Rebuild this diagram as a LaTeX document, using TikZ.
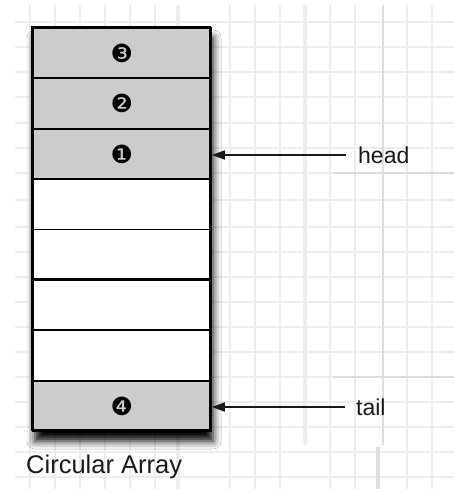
\documentclass[tikz,border=0pt]{standalone}
\usepackage{fontspec}
\setmainfont{Liberation Sans}
\newfontfamily\dingfont{DejaVu Sans}
\usetikzlibrary{arrows.meta,shadows.blur}
\definecolor{gridc}{HTML}{EDEDED}
\definecolor{gridd}{HTML}{DCDCDC}
\definecolor{cellgray}{HTML}{CCCCCC}
\begin{document}
\begin{tikzpicture}[x=1pt,y=-1pt,
  cell/.style={draw=black,line width=1.8pt,minimum width=178pt,minimum height=50.4pt,inner sep=0pt,anchor=north west},
  full/.style={cell,fill=cellgray},
  empty/.style={cell,fill=white},
  num/.style={font=\dingfont\fontsize{25}{25}\selectfont},
  lbl/.style={font=\fontsize{23}{23}\selectfont,text=black!90,inner sep=0pt},
  ptr/.style={line width=1.7pt,black!90,-{Triangle[length=13pt,width=9pt]}},
  gline/.style={gridc,line width=2.6pt},
  gdark/.style={gridd,line width=2.6pt}]
\useasboundingbox (0,0) rectangle (454,489);
\fill[white] (0,0) rectangle (454,489);
% background grid
\foreach \x in {30,55,80,105,130,155,230,255,280,330,355,407,432}
  \draw[gline] (\x,5) -- (\x,489);
\foreach \y in {22,47,72,97,123,148,200,227,252,277,302,327,352,402,427,452,477}
  \draw[gline] (15,\y) -- (454,\y);
\draw[gline] (15,173) -- (454,173);
\draw[gline] (15,377) -- (454,377);
\draw[gdark] (333,173) -- (454,173);
\draw[gdark] (333,377) -- (454,377);
\draw[gline,line width=4pt] (178,5) -- (178,489);
\draw[gline,line width=4pt] (305,5) -- (305,445);
\draw[gdark] (383,5) -- (383,445);
\draw[gdark,line width=4pt] (378,447) -- (378,489);
% shadowed array
\fill[white,blur shadow={shadow xshift=3pt,shadow yshift=-11pt,shadow blur radius=8pt,shadow opacity=100}] (32,27) rectangle (210,430);
\node[full]  (c1) at (32,27.0)  {};
\node[full]  (c2) at (32,77.4)  {};
\node[full]  (c3) at (32,127.8) {};
\node[empty] (c4) at (32,178.2) {};
\node[empty] (c5) at (32,228.6) {};
\node[empty] (c6) at (32,279.0) {};
\node[empty] (c7) at (32,329.4) {};
\node[full]  (c8) at (32,379.8) {};
\draw[line width=2.6pt] (c6.north west) -- (c6.north east);
\draw[line width=2.4pt] (32,27) rectangle (210,430);
\node[num] (n3) at (c1.center) {❸};
\node[num] (n2) at (c2.center) {❷};
\node[num] (n1) at (c3.center) {❶};
\node[num] (n4) at (c8.center) {❹};
% pointers
\node[lbl,anchor=west] (head) at (358,155) {head};
\node[lbl,anchor=west] (tail) at (356,407) {tail};
\draw[ptr] ([xshift=-12pt]head.west) -- (c3.east |- head.west);
\draw[ptr] ([xshift=-11pt]tail.west) -- (c8.east |- tail.west);
\node[lbl,anchor=west,font=\fontsize{25.5}{25.5}\selectfont] (cap) at (26,467) {Circular Array};
\end{tikzpicture}
\end{document}
